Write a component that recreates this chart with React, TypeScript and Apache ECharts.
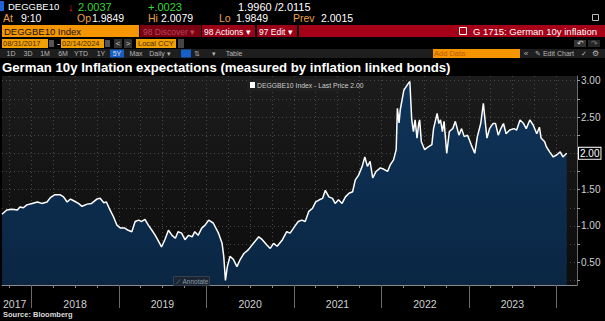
import React, { useEffect, useRef } from 'react';
import * as echarts from 'echarts';

// ---------- data ----------
const dates = [
  '2017-08-31', '2017-09-20', '2017-10-12', '2017-11-03', '2017-11-14', '2017-11-28', '2017-12-13',
  '2018-01-04', '2018-01-26', '2018-02-13', '2018-03-07', '2018-03-21', '2018-04-09', '2018-04-30', '2018-05-15',
  '2018-05-30', '2018-06-13', '2018-06-24', '2018-07-16', '2018-07-31', '2018-08-22', '2018-09-09', '2018-10-01',
  '2018-10-15', '2018-10-30', '2018-11-10', '2018-11-25', '2018-12-09', '2018-12-24',
  '2019-01-08', '2019-01-26', '2019-02-09', '2019-02-24', '2019-03-10', '2019-03-25', '2019-04-05', '2019-04-20',
  '2019-05-04', '2019-05-19', '2019-06-02', '2019-06-17', '2019-06-28', '2019-07-12', '2019-07-27', '2019-08-11',
  '2019-08-25', '2019-09-05', '2019-09-20', '2019-10-04', '2019-10-19', '2019-11-03', '2019-11-14', '2019-11-28',
  '2019-12-13', '2019-12-27',
  '2020-01-11', '2020-01-30', '2020-02-21', '2020-03-07', '2020-03-14', '2020-03-21', '2020-03-29', '2020-04-09',
  '2020-04-23', '2020-05-08', '2020-05-22', '2020-06-06', '2020-06-24', '2020-07-16', '2020-08-07', '2020-08-22',
  '2020-09-09', '2020-09-24', '2020-10-08', '2020-10-23', '2020-11-14', '2020-12-02', '2020-12-16',
  '2021-01-08', '2021-01-19', '2021-02-03', '2021-02-17', '2021-03-04', '2021-03-19', '2021-04-02', '2021-04-17',
  '2021-05-01', '2021-05-12', '2021-05-27', '2021-06-11', '2021-06-22', '2021-07-06', '2021-07-21', '2021-08-04',
  '2021-08-19', '2021-09-03', '2021-09-14', '2021-09-28', '2021-10-13', '2021-10-24', '2021-11-04', '2021-11-15',
  '2021-11-26', '2021-12-10', '2021-12-28',
  '2022-01-12', '2022-01-27', '2022-02-07', '2022-02-21', '2022-03-04', '2022-03-09', '2022-03-16', '2022-03-21',
  '2022-04-05', '2022-04-23', '2022-04-30', '2022-05-08', '2022-05-15', '2022-05-22', '2022-05-30', '2022-06-06',
  '2022-06-10', '2022-06-17', '2022-07-01', '2022-07-16', '2022-07-31', '2022-08-07', '2022-08-22', '2022-08-29',
  '2022-09-05', '2022-09-13', '2022-09-20', '2022-10-01', '2022-10-12', '2022-10-26', '2022-11-06', '2022-11-21',
  '2022-12-02', '2022-12-13', '2022-12-27',
  '2023-01-11', '2023-01-26', '2023-02-06', '2023-02-20', '2023-03-03', '2023-03-10', '2023-03-18', '2023-03-29',
  '2023-04-12', '2023-04-23', '2023-05-04', '2023-05-15', '2023-05-26', '2023-06-06', '2023-06-21', '2023-07-09',
  '2023-07-20', '2023-08-03', '2023-08-18', '2023-08-29', '2023-09-13', '2023-09-27', '2023-10-12', '2023-10-23',
  '2023-10-30', '2023-11-14', '2023-11-21', '2023-12-05', '2023-12-20',
  '2024-01-04', '2024-01-18', '2024-01-29', '2024-02-14',
];

const values = [
  1.16, 1.22, 1.23, 1.22, 1.26, 1.25, 1.29,
  1.31, 1.33, 1.31, 1.33, 1.39, 1.43, 1.43, 1.40,
  1.33, 1.37, 1.35, 1.31, 1.27, 1.30, 1.31, 1.37,
  1.38, 1.32, 1.33, 1.22, 1.13, 1.01,
  0.97, 0.97, 0.94, 0.92, 1.06, 1.08, 1.06, 1.09,
  1.01, 0.94, 0.87, 0.78, 0.71, 0.81, 0.94, 0.87,
  0.83, 0.92, 0.90, 0.81, 0.87, 0.85, 0.92, 0.87,
  0.97, 1.01,
  1.08, 1.04, 0.90, 0.76, 0.58, 0.25, 0.44, 0.58,
  0.54, 0.44, 0.54, 0.62, 0.67, 0.76, 0.85, 0.81,
  0.74, 0.69, 0.76, 0.72, 0.81, 0.92, 0.90,
  1.01, 1.06, 1.08, 1.06, 1.20, 1.24, 1.33, 1.36,
  1.38, 1.49, 1.40, 1.38, 1.31, 1.36, 1.31, 1.40,
  1.45, 1.47, 1.63, 1.70, 1.82, 1.95, 1.82, 1.89,
  1.66, 1.75, 1.80,
  1.78, 1.75, 1.84, 1.91, 2.05, 2.62, 2.42, 2.60,
  2.87, 2.96, 2.99, 2.46, 2.30, 2.46, 2.21, 2.41,
  2.46, 2.16, 2.05, 2.09, 2.12, 2.34, 2.55, 2.41,
  2.46, 2.30, 2.44, 2.00, 2.30, 2.34, 2.44, 2.25,
  2.34, 2.23, 2.25,
  2.12, 2.00, 2.23, 2.41, 2.69, 2.46, 2.21, 2.34,
  2.41, 2.41, 2.25, 2.34, 2.41, 2.27, 2.32, 2.34,
  2.32, 2.46, 2.41, 2.34, 2.46, 2.39, 2.27, 2.36,
  2.21, 2.16, 2.09, 2.02, 1.95,
  1.98, 2.02, 1.95, 2.00,
];

const yTickValues = [0.25, 0.5, 0.75, 1.0, 1.25, 1.5, 1.75, 2.0, 2.25, 2.5, 2.75, 3.0];
const yLabelValues = [0.5, 1.0, 1.5, 2.0, 2.5, 3.0];
const quarterTickDates = [
  '2017-10-01', '2018-01-01', '2018-04-01', '2018-07-01', '2018-10-01', '2019-01-01', '2019-04-01', '2019-07-01',
  '2019-10-01', '2020-01-01', '2020-04-01', '2020-07-01', '2020-10-01', '2021-01-01', '2021-04-01', '2021-07-01',
  '2021-10-01', '2022-01-01', '2022-04-01', '2022-07-01', '2022-10-01', '2023-01-01', '2023-04-01', '2023-07-01',
  '2023-10-01', '2024-01-01',
];
const yearStartDates = ['2018-01-01', '2019-01-01', '2020-01-01', '2021-01-01', '2022-01-01', '2023-01-01', '2024-01-01'];
const yearLabelDates = ['2017-10-23', '2018-07-02', '2019-07-02', '2020-07-02', '2021-07-02', '2022-07-02', '2023-07-02'];
const AXIS_START = '2017-08-31';
const AXIS_END = '2024-03-28';
const Y_MIN = 0.186;
const Y_MAX = 3.065;

const TITLE = 'German 10y Inflation expectations (measured by inflation linked bonds)';

const ts = (s: string) => {
  const [y, m, d] = s.split('-').map(Number);
  return Date.UTC(y, m - 1, d);
};

const FONT = '"Liberation Sans", Arial, sans-serif';

const txt = (x: number, y: number, text: string, fill: string, size = 11, weight = 'normal', align = 'left') => ({
  type: 'text',
  x,
  y,
  silent: true,
  z: 100,
  style: {
    text,
    fill,
    font: `${weight} ${size}px ${FONT}`,
    align,
    textAlign: align,
    verticalAlign: 'middle',
    textVerticalAlign: 'middle',
  },
});

const box = (x: number, y: number, w: number, h: number, fill: string, stroke?: string) => ({
  type: 'rect',
  silent: true,
  z: 99,
  shape: { x, y, width: w, height: h },
  style: stroke ? { fill, stroke, lineWidth: 1 } : { fill },
});

function buildGraphics() {
  const g: any[] = [];
  // Row 1
  g.push(box(0, 1, 4, 10, '#1f63d6'));
  g.push(txt(8, 6.5, 'DEGGBE10', '#ffffff', 9.5));
  g.push(txt(68, 6.5, '↓', '#e8262e', 11, 'bold'));
  g.push(txt(78, 6.5, '2.0037', '#37d43a', 11));
  g.push(txt(148, 6.5, '+.0023', '#37d43a', 11));
  g.push(txt(238, 6.5, '1.9960 /2.0115', '#ffffff', 11));
  // Row 2
  const or = '#e9a24a';
  g.push(txt(3, 18, 'At', or, 10.5));
  g.push(txt(21, 18, '9:10', '#ffffff', 10.5));
  g.push(txt(77, 18, 'Op', or, 10.5));
  g.push(txt(92, 18, '1.9849', '#ffffff', 10.5));
  g.push(txt(148, 18, 'Hi', or, 10.5));
  g.push(txt(161, 18, '2.0079', '#ffffff', 10.5));
  g.push(txt(219, 18, 'Lo', or, 10.5));
  g.push(txt(236, 18, '1.9849', '#ffffff', 10.5));
  g.push(txt(293, 18, 'Prev', or, 10.5));
  g.push(txt(321, 18, '2.0015', '#ffffff', 10.5));
  g.push(box(592.5, 14.5, 6, 6, 'none', '#bbbbbb'));
  // Row 3
  g.push(box(2, 25, 137, 12, '#f59600'));
  g.push(txt(4, 31.5, 'DEGGBE10 Index', '#111111', 9.5));
  g.push(box(140, 25, 61, 12, '#7a0012'));
  g.push(txt(143, 31.5, '98 Discover ▾', '#b8485e', 8.5));
  g.push(box(202, 25, 53, 12, '#9c0018'));
  g.push(txt(204, 31.5, '98 Actions ▾', '#ffffff', 8.5));
  g.push(box(257, 25, 40, 12, '#9c0018'));
  g.push(txt(259, 31.5, '97 Edit ▾', '#ffffff', 8.5));
  g.push(box(299, 25, 306, 12, '#a60019'));
  g.push(box(459.5, 27.5, 7, 7, 'none', '#ffffff'));
  g.push(txt(597, 31.5, 'G 1715: German 10y inflation', '#ffffff', 9.5, 'normal', 'right'));
  // Row 4
  g.push(box(2, 39, 46, 9, '#f0a000'));
  g.push(txt(3, 43.5, '08/31/2017', '#4a2800', 7.5));
  g.push(box(49, 40, 5, 7, '#555555'));
  g.push(txt(57, 43.5, '-', '#ffffff', 9));
  g.push(box(61, 39, 43, 9, '#f0a000'));
  g.push(txt(62, 43.5, '02/14/2024', '#4a2800', 7.5));
  g.push(box(105, 40, 5, 7, '#555555'));
  g.push(box(114, 39, 8, 9, '#333333'));
  g.push(txt(118, 43.5, '<', '#cccccc', 8, 'normal', 'center'));
  g.push(box(124, 39, 8, 9, '#333333'));
  g.push(txt(128, 43.5, '>', '#cccccc', 8, 'normal', 'center'));
  g.push(box(136, 39, 40, 9, '#f0a000'));
  g.push(txt(138, 43.5, 'Local CCY', '#4a2800', 7.5));
  g.push(box(178, 39, 6, 9, '#444444'));
  g.push(box(574, 40, 12, 7, '#333333'));
  g.push(txt(580, 43.5, '↶', '#cccccc', 8, 'normal', 'center'));
  g.push(box(588, 40, 12, 7, '#262626'));
  g.push(txt(594, 43.5, '↷', '#777777', 8, 'normal', 'center'));
  // Row 5
  g.push(box(0, 49, 605, 9, '#1e1e1e'));
  const btn = '#b5b5b5';
  g.push(txt(11, 53.5, '1D', btn, 7, 'normal', 'center'));
  g.push(txt(28, 53.5, '3D', btn, 7, 'normal', 'center'));
  g.push(txt(45, 53.5, '1M', btn, 7, 'normal', 'center'));
  g.push(txt(63, 53.5, '6M', btn, 7, 'normal', 'center'));
  g.push(txt(81, 53.5, 'YTD', btn, 7, 'normal', 'center'));
  g.push(txt(101, 53.5, '1Y', btn, 7, 'normal', 'center'));
  g.push(box(110, 49.5, 14, 8, '#1560c8'));
  g.push(txt(117, 53.5, '5Y', '#dddddd', 7, 'normal', 'center'));
  g.push(txt(136, 53.5, 'Max', btn, 7, 'normal', 'center'));
  g.push(txt(160, 53.5, 'Daily ▾', btn, 7, 'normal', 'center'));
  g.push(box(181, 49.5, 10, 8, '#1560c8'));
  g.push(txt(197, 53.5, '⇅', btn, 7, 'normal', 'center'));
  g.push(txt(214, 53.5, '▾', btn, 7, 'normal', 'center'));
  g.push(txt(234, 53.5, 'Table', btn, 7, 'normal', 'center'));
  g.push(box(433, 49, 87, 9, '#f59600'));
  g.push(txt(434, 53.5, 'Add Data', '#c05a00', 7.5));
  g.push(txt(526, 53.5, '«', btn, 8, 'normal', 'center'));
  g.push(txt(535, 53.5, '✎ Edit Chart', btn, 7));
  g.push(txt(584, 53.5, '✓', btn, 7, 'normal', 'center'));
  g.push(txt(595, 53.5, '⚙', btn, 8, 'normal', 'center'));
  // Legend
  g.push(box(247, 79, 104, 12, '#202020'));
  g.push(box(250, 82, 5, 6, '#ffffff'));
  g.push(txt(257, 85.5, 'DEGGBE10 Index - Last Price 2.00', '#cccccc', 6.8));
  // Annotate button
  g.push(box(173.5, 276.5, 36, 9, '#1a2533', '#34404e'));
  g.push(txt(176, 281, '⟋ Annotate', '#8e98a4', 6.5));
  // Source
  g.push(txt(3, 314, 'Source: Bloomberg', '#dddddd', 7.5, 'bold'));
  return g;
}

export default function App() {
  const ref = useRef<HTMLDivElement>(null);
  useEffect(() => {
    if (!ref.current) return;
    const chart = echarts.init(ref.current, undefined, { renderer: 'svg' });
    const seriesData = dates.map((d, i) => [ts(d), values[i]]);
    const lastVal = values[values.length - 1];
    const gridLine = { type: [1, 3], color: '#474747', width: 1 };
    chart.setOption({
      animation: false,
      backgroundColor: '#000000',
      textStyle: { fontFamily: FONT },
      title: {
        text: TITLE,
        left: 2,
        top: 61,
        padding: 0,
        textStyle: { color: '#ffffff', fontSize: 13.2, fontWeight: 'bold', fontFamily: FONT },
      },
      grid: {
        left: 2,
        right: 28,
        top: 76,
        bottom: 36,
        show: true,
        borderWidth: 0,
        backgroundColor: new echarts.graphic.LinearGradient(0, 0, 0, 1, [
          { offset: 0, color: '#1c1c1c' },
          { offset: 1, color: '#0c0c0c' },
        ]),
      },
      xAxis: [
        {
          type: 'value',
          min: ts(AXIS_START),
          max: ts(AXIS_END),
          position: 'bottom',
          axisLine: { show: true, lineStyle: { color: '#8a8a8a', width: 1 } },
          axisTick: {
            show: true,
            customValues: quarterTickDates.map(ts),
            length: 3,
            lineStyle: { color: '#8a8a8a' },
          },
          splitLine: { show: true, lineStyle: gridLine },
          axisLabel: {
            show: true,
            customValues: yearLabelDates.map(ts),
            formatter: (v: number) => String(new Date(v).getUTCFullYear()),
            color: '#d0d0d0',
            fontSize: 10.5,
            margin: 13,
            fontFamily: FONT,
          },
        },
        {
          type: 'value',
          min: ts(AXIS_START),
          max: ts(AXIS_END),
          position: 'bottom',
          axisLine: { show: false },
          axisTick: {
            show: true,
            customValues: yearStartDates.map(ts),
            length: 23,
            lineStyle: { color: '#6a6a6a' },
          },
          splitLine: { show: false },
          axisLabel: { show: false },
        },
      ],
      yAxis: [
        {
          type: 'value',
          position: 'right',
          min: Y_MIN,
          max: Y_MAX,
          axisLine: { show: true, lineStyle: { color: '#6a6a6a' } },
          axisTick: {
            show: true,
            customValues: yTickValues,
            length: 3,
            lineStyle: { color: '#9a9a9a' },
          },
          splitLine: { show: true, lineStyle: gridLine },
          axisLabel: {
            customValues: yLabelValues,
            formatter: (v: number) => v.toFixed(2),
            color: '#d0d0d0',
            fontSize: 10,
            margin: 4,
            fontFamily: FONT,
          },
        },
        {
          type: 'value',
          position: 'right',
          min: Y_MIN,
          max: Y_MAX,
          axisLine: { show: false },
          axisTick: { show: false },
          splitLine: { show: false },
          axisLabel: {
            customValues: [lastVal],
            formatter: (v: number) => v.toFixed(2),
            color: '#ffffff',
            fontSize: 10,
            margin: 2,
            backgroundColor: '#000000',
            borderColor: '#ffffff',
            borderWidth: 1,
            padding: [1, 1, 0, 1],
            fontFamily: FONT,
          },
        },
      ],
      series: [
        {
          type: 'line',
          data: seriesData,
          showSymbol: false,
          symbol: 'none',
          lineStyle: { color: '#ffffff', width: 1.5 },
          areaStyle: {
            color: new echarts.graphic.LinearGradient(0, 0, 0, 1, [
              { offset: 0, color: '#0f345a' },
              { offset: 1, color: '#0a2643' },
            ]),
            opacity: 1,
          },
          z: 5,
        },
      ],
      graphic: { elements: buildGraphics() },
    });
    return () => chart.dispose();
  }, []);
  return (
    <div
      ref={ref}
      style={{ position: 'fixed', left: 0, top: 0, width: 605, height: 321, background: '#000' }}
    />
  );
}
